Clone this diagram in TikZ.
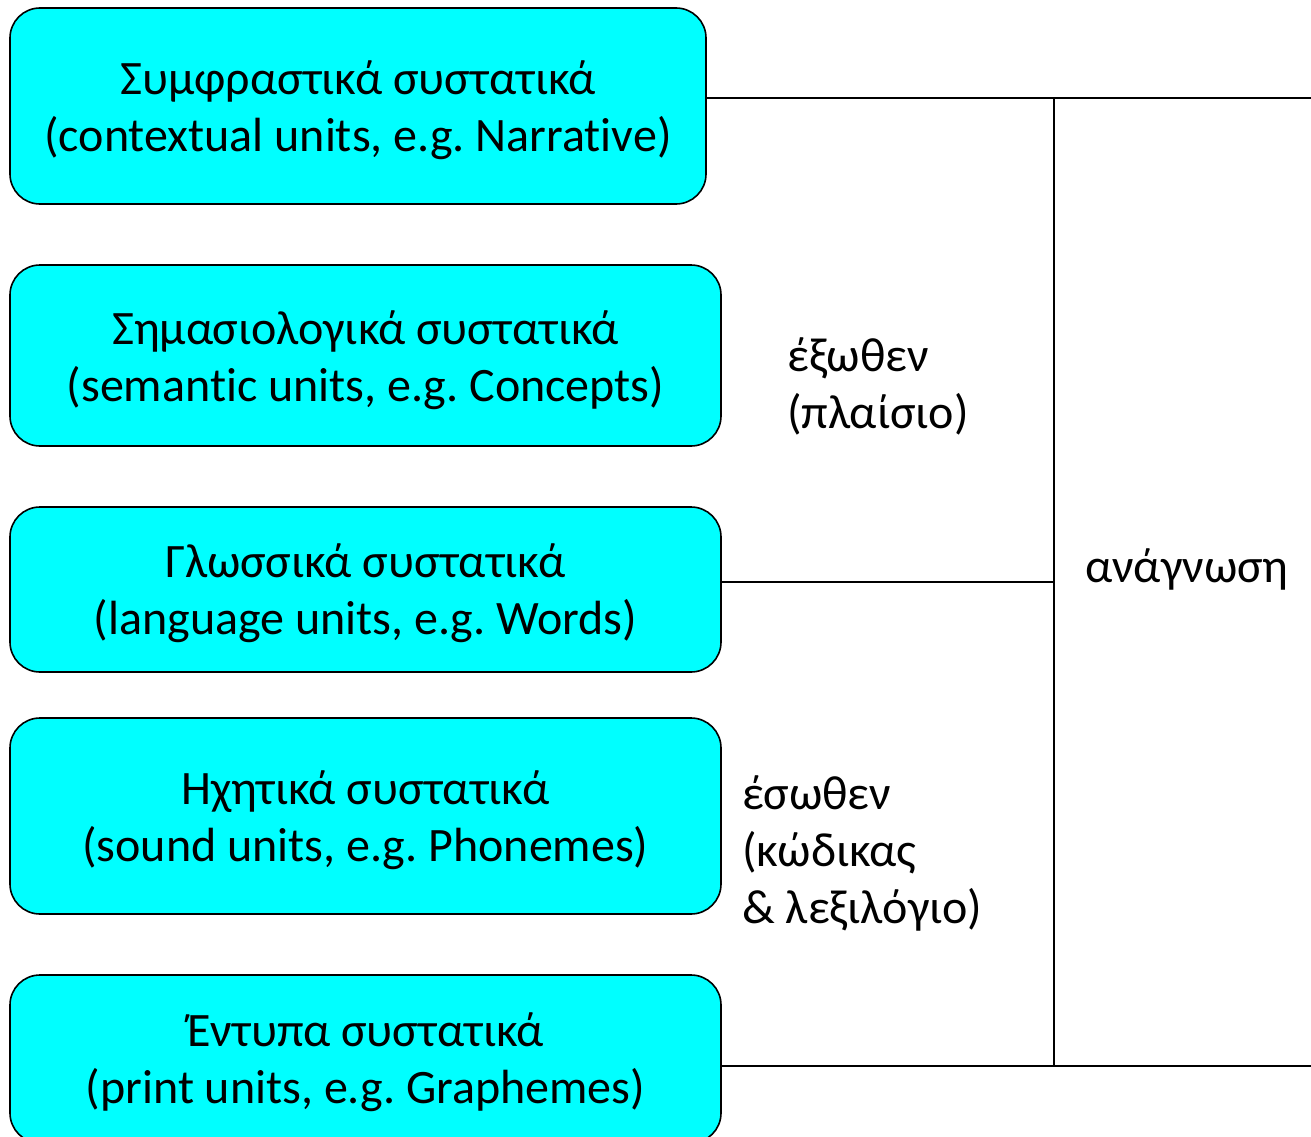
\documentclass[tikz,border=0pt]{standalone}
\usepackage{fontspec}
\setmainfont{Carlito}[Ligatures={NoCommon}]
\definecolor{boxcyan}{RGB}{0,255,255}
\frenchspacing
\begin{document}
\begin{tikzpicture}[x=1pt,y=-1pt,
  unitbox/.style={draw=black, line width=1.6pt, fill=boxcyan, rounded corners=30pt, inner sep=0pt},
  boxtext/.style={align=center, font=\fontsize{48}{57}\selectfont, inner sep=0pt},
  lbl/.style={align=left, font=\fontsize{48}{57}\selectfont, inner sep=0pt, anchor=west},
  conn/.style={line width=1.4pt}]
\useasboundingbox (0,0) rectangle (1311,1137);
\begin{scope}
\clip (0,0) rectangle (1311,1137);
\node[unitbox, minimum width=696pt, minimum height=196pt] (b1) at (358,106) {};
\node[unitbox, minimum width=711pt, minimum height=181pt] (b2) at (365.5,355.5) {};
\node[unitbox, minimum width=711pt, minimum height=165pt] (b3) at (365.5,589.5) {};
\node[unitbox, minimum width=711pt, minimum height=196pt] (b4) at (365.5,816) {};
\node[unitbox, minimum width=711pt, minimum height=168pt] (b5) at (365.5,1059) {};
\end{scope}
\node[boxtext] (t1) at (358,110) {Συμφραστικά συστατικά\\(contextual units, e.g. Narrative)};
\node[boxtext] (t2) at (365.5,360) {Σημασιολογικά συστατικά\\(semantic units, e.g. Concepts)};
\node[boxtext] (t3) at (365.5,593) {Γλωσσικά συστατικά\\(language units, e.g. Words)};
\node[boxtext] (t4) at (365.5,820) {Ηχητικά συστατικά\\(sound units, e.g. Phonemes)};
\node[boxtext] (t5) at (365.5,1062) {Έντυπα συστατικά\\(print units, e.g. Graphemes)};
\node[lbl] (l1) at (787,386) {έξωθεν\\(πλαίσιο)};
\node[lbl] (l2) at (742,853) {έσωθεν\\(κώδικας\\\& λεξιλόγιο)};
\node[lbl] (l3) at (1085,569) {ανάγνωση};
\coordinate (tr) at (1311,98);
\coordinate (tv) at (1054,98);
\coordinate (mv) at (1054,582);
\coordinate (bv) at (1054,1066);
\coordinate (br) at (1311,1066);
\draw[conn] (b1.east |- tr) -- (tr);
\draw[conn] (tv) -- (bv);
\draw[conn] (b3.east |- mv) -- (mv);
\draw[conn] (b5.east |- br) -- (br);
\end{tikzpicture}
\end{document}
